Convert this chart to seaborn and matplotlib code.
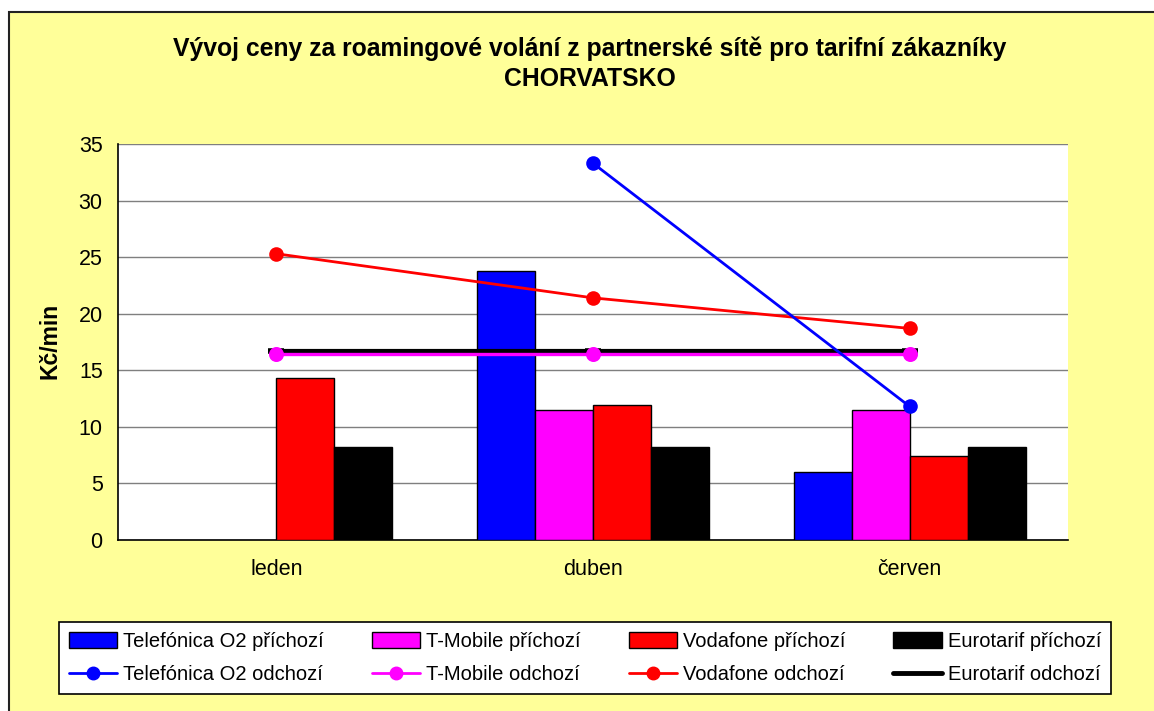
import numpy as np
import pandas as pd
import seaborn as sns
import matplotlib.pyplot as plt
from matplotlib.patches import Patch, Rectangle
from matplotlib.lines import Line2D

months = ['leden', 'duben', 'červen']
operators = ['Telefónica O2', 'T-Mobile', 'Vodafone', 'Eurotarif']
colors = ['#0000FF', '#FF00FF', '#FF0000', '#000000']

# příchozí (bars)
o2_in = [np.nan, 23.8, 6.0]
tm_in = [np.nan, 11.5, 11.5]
vf_in = [14.3, 11.9, 7.4]
eu_in = [8.2, 8.2, 8.2]

# odchozí (lines)
o2_out = [np.nan, 33.3, 11.8]
tm_out = [16.4, 16.4, 16.4]
vf_out = [25.3, 21.4, 18.7]
eu_out = [16.7, 16.7, 16.7]

bars = pd.DataFrame({
    'month': months * 4,
    'series': [f'{op} příchozí' for op in operators for _ in months],
    'value': o2_in + tm_in + vf_in + eu_in,
})
in_order = [f'{op} příchozí' for op in operators]

sns.set_style('white')
plt.rcParams['font.family'] = ['Liberation Sans', 'DejaVu Sans']
plt.rcParams['text.color'] = 'black'
plt.rcParams['xtick.color'] = 'black'
plt.rcParams['ytick.color'] = 'black'

fig = plt.figure(figsize=(11.54, 7.11), dpi=100, facecolor='white')
W, H = 1154, 711
# yellow chart area with dark border (left/top visible)
bg = Rectangle((9 / W, -0.05), 1.1, 1 - 12 / H + 0.05, transform=fig.transFigure,
               facecolor='#FFFF99', edgecolor='#222222', linewidth=1.5, zorder=-10)
fig.patches.append(bg)

ax = fig.add_axes([118 / W, 1 - 540 / H, (1068 - 118) / W, (540 - 144) / H])
ax.set_zorder(1)
ax.set_facecolor('white')

sns.barplot(data=bars, x='month', y='value', hue='series', order=months, hue_order=in_order,
            palette=colors, saturation=1, width=0.733, edgecolor='black', linewidth=1,
            errorbar=None, legend=False, ax=ax, zorder=3)

# odchozí lines
sns.pointplot(x=months, y=eu_out, order=months, color='black', markers='_', ax=ax,
              linewidth=3, markersize=11, markeredgewidth=4, errorbar=None)
sns.pointplot(x=months, y=tm_out, order=months, color='#FF00FF', markers='o', ax=ax,
              linewidth=2.4, markersize=9, errorbar=None)
sns.pointplot(x=months, y=vf_out, order=months, color='#FF0000', markers='o', ax=ax,
              linewidth=2, markersize=9, errorbar=None)
sns.pointplot(x=months, y=o2_out, order=months, color='#0000FF', markers='o', ax=ax,
              linewidth=2, markersize=9, errorbar=None)
for ln in ax.lines:
    ln.set_zorder(5)

ax.set_ylim(0, 35)
ax.set_xlim(-0.5, 2.5)
ax.set_yticks(range(0, 36, 5))
ax.yaxis.grid(True, color='#7F7F7F', linewidth=1)
ax.set_axisbelow(True)
ax.set_xticks(range(len(months)))
ax.set_xticklabels(months)
ax.set_xticks([-0.5, 0.5, 1.5, 2.5], minor=True)
ax.tick_params(axis='x', which='major', length=0, pad=14, labelsize=15.5)
ax.tick_params(axis='x', which='minor', length=6, width=1, color='#444444', direction='out')
ax.tick_params(axis='y', length=6, width=1, color='#444444', labelcolor='black',
               direction='out', pad=5, labelsize=15.5)
ax.set_xlabel('')
ax.set_ylabel('')
for side in ['top', 'right']:
    ax.spines[side].set_visible(False)
ax.spines['left'].set_color('black')
ax.spines['bottom'].set_color('black')
ax.spines['left'].set_linewidth(1.2)
ax.spines['bottom'].set_linewidth(1.2)

fig.text(50 / W, 1 - 341 / H, 'Kč/min', rotation=90, ha='center', va='center',
         fontsize=16.5, fontweight='bold')
fig.text(590 / W, 1 - 64 / H,
         'Vývoj ceny za roamingové volání z partnerské sítě pro tarifní zákazníky\nCHORVATSKO',
         ha='center', va='center', fontsize=17.8, fontweight='bold', linespacing=1.3)

handles, labels = [], []
for op, c in zip(operators, colors):
    handles.append(Patch(facecolor=c, edgecolor='black', linewidth=1))
    labels.append(f'{op} příchozí')
    if op == 'Eurotarif':
        handles.append(Line2D([], [], color=c, linewidth=3.5))
    else:
        handles.append(Line2D([], [], color=c, linewidth=2, marker='o', markersize=9))
    labels.append(f'{op} odchozí')

leg = fig.legend(handles, labels, ncol=4, mode='expand', loc='lower left',
                 bbox_to_anchor=(59 / W, 1 - 694 / H, (1111 - 59) / W, 70 / H),
                 fontsize=14.5, frameon=True, fancybox=False, edgecolor='black',
                 handlelength=2.4, handleheight=0.8, handletextpad=0.3,
                 borderaxespad=0, borderpad=0.5, labelspacing=0.7, columnspacing=1.0)
leg.get_frame().set_linewidth(1.2)
leg.get_frame().set_facecolor('white')
leg.get_frame().set_alpha(1)

fig.savefig('out.png', dpi=100, facecolor=fig.get_facecolor())
